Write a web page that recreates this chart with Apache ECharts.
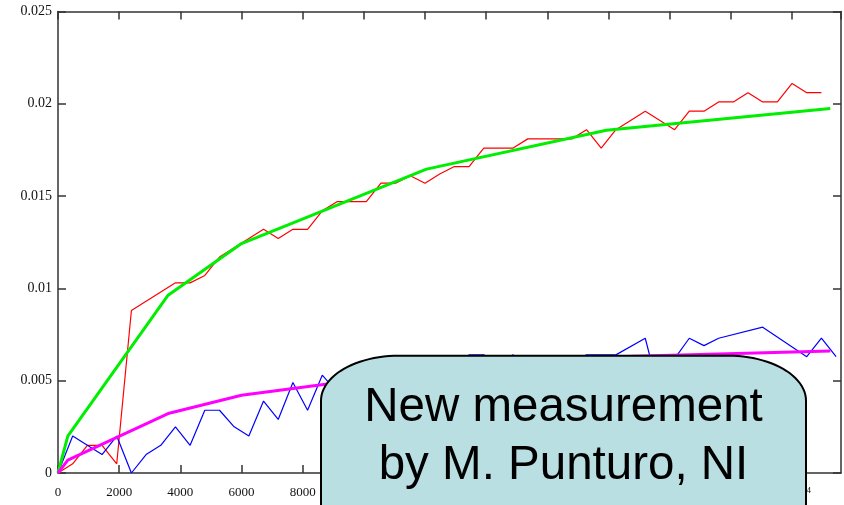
<!DOCTYPE html>
<html>
<head>
<meta charset="utf-8">
<script src="https://cdn.jsdelivr.net/npm/echarts@6/dist/echarts.min.js"></script>
<style>
  html, body { margin: 0; padding: 0; background: #ffffff; }
  #chart { width: 844px; height: 505px; }
</style>
</head>
<body>
<div id="chart"></div>
<script>
// Measured signal (red), sampled every 480 s
const redX = [0, 480, 960, 1440, 1920, 2400, 3840, 4320, 4800, 5280, 5760, 6240, 6720, 7200, 7680, 8160,
  8640, 9120, 9600, 10080, 10560, 11040, 11520, 12000, 12480, 12960, 13440, 13920, 14400, 14880, 15360,
  15840, 16320, 16800, 17280, 17760, 18240, 19200, 20160, 20640, 21120, 21600, 22080, 22560, 23040, 23520,
  24000, 24480, 24960];
const redY = [0, 0.0005, 0.0015, 0.0015, 0.0005, 0.0088, 0.0103, 0.0103, 0.0107, 0.0117, 0.0122, 0.0127,
  0.0132, 0.0127, 0.0132, 0.0132, 0.0142, 0.0147, 0.0147, 0.0147, 0.0157, 0.0157, 0.0161, 0.0157, 0.0162,
  0.0166, 0.0166, 0.0176, 0.0176, 0.0176, 0.0181, 0.0181, 0.0181, 0.0181, 0.0186, 0.0176, 0.0186, 0.0196,
  0.0186, 0.0196, 0.0196, 0.0201, 0.0201, 0.0206, 0.0201, 0.0201, 0.0211, 0.0206, 0.0206];

// Measured signal (blue)
const blueX = [0, 480, 960, 1440, 1920, 2400, 2880, 3360, 3840, 4320, 4800, 5280, 5760, 6240, 6720, 7200,
  7680, 8160, 8640, 9120, 9600, 10080, 10560, 11040, 11520, 12000, 12480, 12960, 13440, 13920, 14400,
  14880, 15360, 15840, 16320, 16800, 17280, 17760, 18240, 19200, 19680, 20160, 20640, 21120, 21600,
  23040, 24480, 24960, 25440];
const blueY = [0, 0.002, 0.0015, 0.001, 0.002, 0, 0.001, 0.0015, 0.0025, 0.0015, 0.0034, 0.0034, 0.0025,
  0.002, 0.0039, 0.0029, 0.0049, 0.0034, 0.0053, 0.0044, 0.0049, 0.0044, 0.0054, 0.0049, 0.0059, 0.0054,
  0.0059, 0.0054, 0.0064, 0.0064, 0.0059, 0.0064, 0.0054, 0.0059, 0.0054, 0.0059, 0.0064, 0.0064, 0.0064,
  0.0073, 0.0042, 0.0062, 0.0073, 0.0069, 0.0073, 0.0079, 0.0063, 0.0073, 0.0063];

// Fitted curves, evaluated at a few times
const fitX = [0, 320, 3600, 6000, 12050, 17930, 25250];
const greenFit = [0, 0.002, 0.00963, 0.01243, 0.01646, 0.01857, 0.01975];
const magentaFit = [0, 0.0007, 0.00322, 0.00421, 0.00553, 0.00628, 0.00661];

const xTicks = { min: 0, max: 25600, step: 2000 };
const yTicks = { min: 0, max: 0.025, step: 0.005 };

const noteLines = ['New measurement', 'by M. Punturo, NI'];

function pairs(xs, ys) { return xs.map((x, i) => [x, ys[i]]); }

function xLabel(v) {
  if (v < 10000) return String(v);
  const m = v / 10000;
  return '{n|' + (Number.isInteger(m) ? String(m) : m.toFixed(1)) + '·10}{s|4}';
}

// Outline of the note box: a rectangle with elliptical top corners
function noteOutline(left, right, top, bottom, rx, ry) {
  const pts = [[left, bottom]];
  const n = 24;
  for (let i = 0; i <= n; i++) {
    const a = Math.PI - (Math.PI / 2) * (i / n);
    pts.push([left + rx + rx * Math.cos(a), top + ry - ry * Math.sin(a)]);
  }
  for (let i = 0; i <= n; i++) {
    const a = Math.PI / 2 - (Math.PI / 2) * (i / n);
    pts.push([right - rx + rx * Math.cos(a), top + ry - ry * Math.sin(a)]);
  }
  pts.push([right, bottom]);
  return pts;
}

const axisColor = '#333';
const labelFont = 'Liberation Serif';

const baseX = {
  type: 'value', min: xTicks.min, max: xTicks.max, interval: xTicks.step,
  axisLine: { show: true, onZero: false, lineStyle: { color: axisColor, width: 1.5 } },
  axisTick: { show: true, inside: true, length: 8, lineStyle: { color: axisColor, width: 1.5 } },
  splitLine: { show: false }
};
const baseY = {
  type: 'value', min: yTicks.min, max: yTicks.max, interval: yTicks.step,
  axisLine: { show: true, onZero: false, lineStyle: { color: axisColor, width: 1.5 } },
  axisTick: { show: true, inside: true, length: 8, lineStyle: { color: axisColor, width: 1.5 } },
  splitLine: { show: false }
};

const chart = echarts.init(document.getElementById('chart'));
chart.setOption({
  animation: false,
  backgroundColor: '#ffffff',
  grid: { left: 58, right: 3, top: 11.5, bottom: 32 },
  xAxis: [
    Object.assign({}, baseX, {
      position: 'bottom',
      axisLabel: {
        show: true, margin: 13, showMaxLabel: false, color: '#111',
        fontFamily: labelFont, fontSize: 13, formatter: xLabel,
        rich: {
          n: { fontFamily: labelFont, fontSize: 13, color: '#111' },
          s: { fontFamily: labelFont, fontSize: 9, color: '#111', verticalAlign: 'top', padding: [0, 0, 6, 0] }
        }
      }
    }),
    Object.assign({}, baseX, { position: 'top', axisLabel: { show: false } })
  ],
  yAxis: [
    Object.assign({}, baseY, {
      position: 'left',
      axisLabel: { show: true, margin: 6, color: '#111', fontFamily: labelFont, fontSize: 14 }
    }),
    Object.assign({}, baseY, { position: 'right', axisLabel: { show: false } })
  ],
  series: [
    { type: 'line', data: pairs(redX, redY), showSymbol: false, z: 2,
      lineStyle: { color: '#ff0000', width: 1.2 }, itemStyle: { color: '#ff0000' } },
    { type: 'line', data: pairs(blueX, blueY), showSymbol: false, z: 2,
      lineStyle: { color: '#0000ff', width: 1.2 }, itemStyle: { color: '#0000ff' } },
    { type: 'line', data: pairs(fitX, greenFit), showSymbol: false, z: 3,
      lineStyle: { color: '#00ee00', width: 3 }, itemStyle: { color: '#00ee00' } },
    { type: 'line', data: pairs(fitX, magentaFit), showSymbol: false, z: 3,
      lineStyle: { color: '#ff00ff', width: 3 }, itemStyle: { color: '#ff00ff' } }
  ],
  graphic: [
    {
      type: 'polygon', z: 100, silent: true,
      shape: { points: noteOutline(321, 806, 355.7, 530, 78, 45) },
      style: { fill: '#b9dfe3', stroke: '#000000', lineWidth: 2 }
    },
    {
      type: 'text', z: 101, silent: true,
      style: { text: noteLines[0], x: 563.5, y: 408, fill: '#000', font: '47.5px "Liberation Sans"', align: 'center', verticalAlign: 'middle' }
    },
    {
      type: 'text', z: 101, silent: true,
      style: { text: noteLines[1], x: 563.5, y: 466, fill: '#000', font: '47.5px "Liberation Sans"', align: 'center', verticalAlign: 'middle' }
    }
  ]
});
</script>
</body>
</html>
